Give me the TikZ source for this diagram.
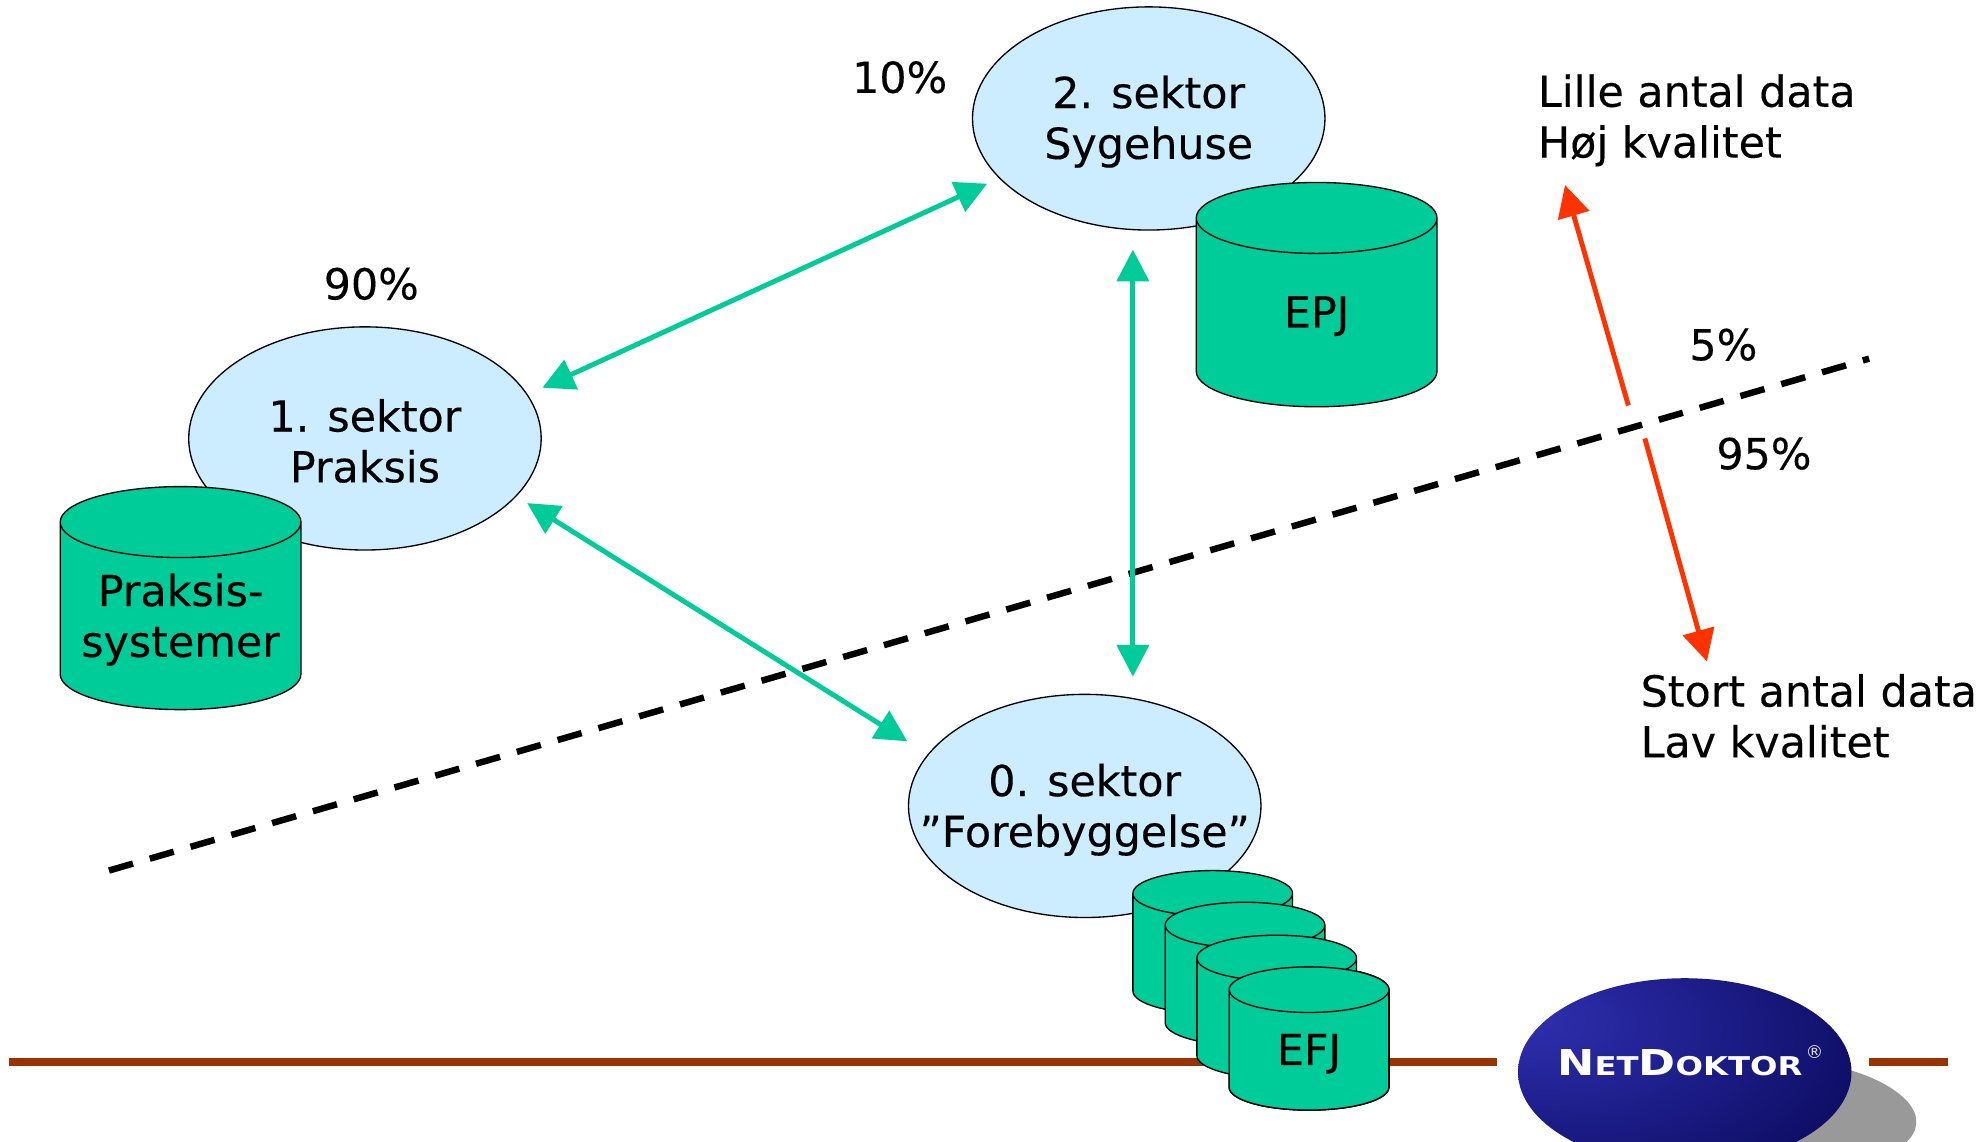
\documentclass[tikz,border=0pt]{standalone}
\usepackage{fontspec}
\setmainfont{DejaVu Sans}
\usetikzlibrary{arrows.meta,shapes.geometric}
\definecolor{sectorblue}{HTML}{CCECFF}
\definecolor{dbgreen}{HTML}{00CC99}
\definecolor{arrowred}{HTML}{FF3300}
\definecolor{rulebrown}{HTML}{993300}
\definecolor{ballA}{HTML}{3030B0}
\definecolor{ballB}{HTML}{202090}
\definecolor{ballC}{HTML}{10106A}
\definecolor{ballD}{HTML}{000050}
\definecolor{ballE}{HTML}{000030}
\pgfdeclareradialshading{logoball}{\pgfpoint{-25bp}{15bp}}{color(0bp)=(ballA);color(20bp)=(ballB);color(40bp)=(ballC);color(60bp)=(ballD);color(80bp)=(ballE);color(100bp)=(ballE)}
\newcommand{\brandbig}[1]{{\fontsize{8}{8}\selectfont #1}}
\newcommand{\brandsmall}[1]{{\fontsize{5.8}{5.8}\selectfont #1}}
% name, centre x, top y, x radius, height, y radius, text
\newcommand{\dbcan}[7]{
	\draw[dbbody] ({#2-#4},{#3+#6}) -- ({#2-#4},{#3+#5-#6})
		arc[start angle=180,end angle=0,x radius=#4,y radius=#6]
		-- ({#2+#4},{#3+#6})
		arc[start angle=0,end angle=-360,x radius=#4,y radius=#6];
	\node[txt] (#1) at ({#2},{#3+#5/2+#6/2+3}) {#7};
}
\begin{document}
\begin{tikzpicture}[x=0.01cm,y=-0.01cm]
\tikzstyle{txt}=[font=\fontsize{9.6}{11.4}\selectfont\addfontfeature{FakeBold=0.25},align=center,inner sep=0pt]
\tikzstyle{sector}=[ellipse,draw=black,line width=0.3pt,fill=sectorblue,minimum width=2.78cm,minimum height=1.76cm,inner sep=0pt]
\tikzstyle{dbbody}=[draw=black,line width=0.3pt,fill=dbgreen]
\tikzstyle{link}=[dbgreen,line width=1.1pt,{Triangle[length=0.25cm,width=0.25cm]}-{Triangle[length=0.25cm,width=0.25cm]}]
\tikzstyle{quality}=[arrowred,line width=1.1pt,-{Triangle[length=0.25cm,width=0.25cm]}]
\useasboundingbox (0,0) rectangle (1568,901);
% bottom rule
\coordinate (r1) at (7,838);
\coordinate (r2) at (1181,838);
\coordinate (r3) at (1475,838);
\coordinate (r4) at (1537,838);
\draw[rulebrown,line width=1.7pt] (r1) -- (r2);
\draw[rulebrown,line width=1.7pt] (r3) -- (r4);
% sectors
\node[sector] (s2) at (906.5,93.5) {};
\node[sector] (s1) at (288,346) {};
\node[sector] (s0) at (856,636) {};
\node[txt] (s2text) at (906.5,96) {2. sektor\\Sygehuse};
\node[txt] (s1text) at (288,348) {1. sektor\\Praksis};
\node[txt] (s0text) at (856,639) {0. sektor\\”Forebyggelse”};
% databases
\dbcan{epj}{1039}{144}{95}{177}{28}{EPJ}
\dbcan{praksis}{142.5}{384}{95}{176}{28}{Praksis-\\systemer}
\foreach \name/\cx/\top in {f1/957/687,f2/982.5/712,f3/1007.5/738}
	\dbcan{\name}{\cx}{\top}{63}{113}{18}{}
\dbcan{efj}{1033}{763}{63}{113}{18}{EFJ}
% dashed divider
\coordinate (d1) at (86,687);
\coordinate (d2) at (1475,283);
\draw[black,line width=1.45pt,dash pattern=on 0.197cm off 0.138cm] (d1) -- (d2);
% links
\foreach \name/\point in {
	a1/{428,306},
	a2/{779,145},
	b1/{894,197},
	b2/{894,534},
	c1/{416,397},
	c2/{716,585},
	q1/{1285,320},
	q2/{1235,146},
	q3/{1298,346},
	q4/{1347,522}}
	\coordinate (\name) at (\point);
\draw[link] (a1) -- (a2);
\draw[link] (b1) -- (b2);
\draw[link] (c1) -- (c2);
\draw[quality] (q1) -- (q2);
\draw[quality] (q3) -- (q4);
% labels
\node[txt] (p10) at (710,61) {10\%};
\node[txt] (p90) at (293,224) {90\%};
\node[txt] (p5) at (1360,272) {5\%};
\node[txt] (p95) at (1392,358) {95\%};
\node[txt,align=left,anchor=west] (few) at (1213,95) {Lille antal data\\Høj kvalitet};
\node[txt,align=left,anchor=west] (many) at (1294,565) {Stort antal data\\Lav kvalitet};
% logo
\begin{scope}
\clip (0,0) rectangle (1568,901);
\node[ellipse,fill=black!40,minimum width=2.05cm,minimum height=0.85cm,inner sep=0pt,rotate=-5] (shadow) at (1410,878) {};
\node[ellipse,shading=logoball,minimum width=2.63cm,minimum height=1.48cm,inner sep=0pt] (ball) at (1329.5,846) {};
\node[white,inner sep=0pt,anchor=base west,xscale=1.25,transform shape] (brand) at (1228,849) {\bfseries\brandbig{N}\brandsmall{ET}\brandbig{D}\brandsmall{OKTOR}};
\node[white!85!black,inner sep=0pt,font=\fontsize{4}{4}\selectfont] (reg) at (1432,830) {®};
\end{scope}
\end{tikzpicture}
\end{document}
